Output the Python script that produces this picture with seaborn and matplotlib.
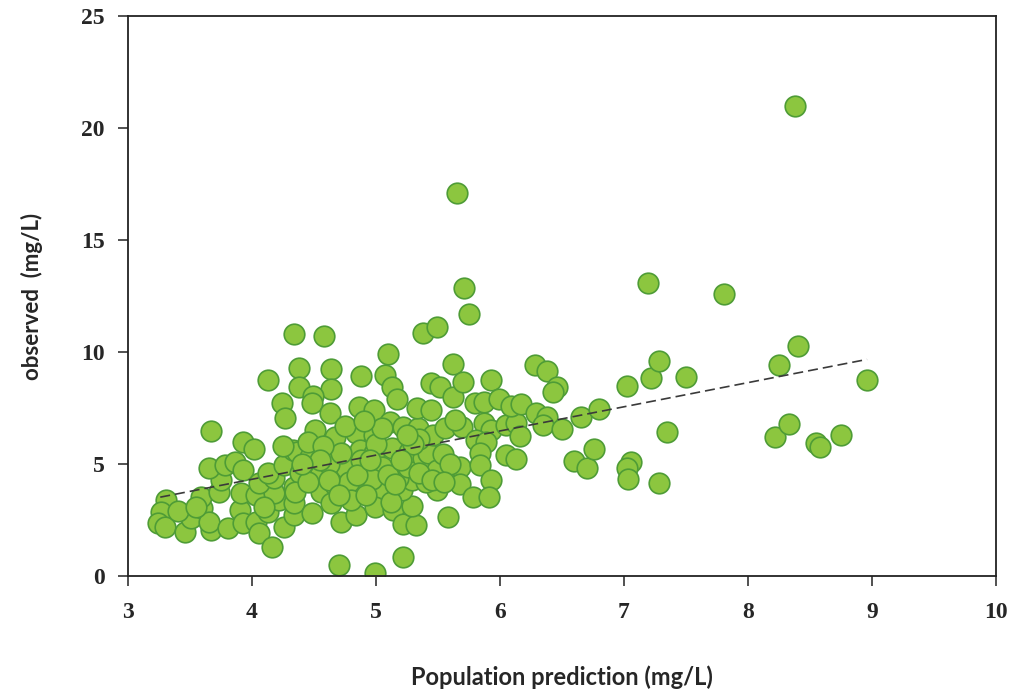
import matplotlib
matplotlib.use("Agg")
import matplotlib.pyplot as plt
import seaborn as sns
import pandas as pd

# Population-predicted vs observed concentrations (mg/L)
pred = [
    3.31, 3.27, 3.24, 3.30, 3.46, 3.51, 3.60, 3.59, 3.67, 3.65, 3.73, 3.75, 3.65, 3.78, 3.86,
    3.93, 3.67, 3.93, 4.02, 3.81, 3.90, 3.93, 3.91, 4.03, 4.03, 4.06, 4.13, 4.16, 4.26, 4.34,
    4.22, 4.34, 4.18, 4.34, 4.06, 4.18, 4.13, 4.26, 4.40, 4.33, 4.13, 4.24, 4.27, 4.34, 4.38,
    4.38, 4.58, 4.64, 4.64, 4.49, 4.48, 4.63, 4.51, 4.67, 4.36, 4.47, 4.52, 4.39, 4.55, 4.35,
    4.56, 4.64, 4.48, 4.72, 4.70, 4.67, 4.88, 5.07, 5.10, 5.13, 4.86, 4.98, 5.17, 4.84, 4.98,
    5.11, 4.87, 4.98, 5.13, 4.76, 4.95, 4.88, 5.05, 4.88, 5.06, 4.84, 4.99, 5.14, 4.99, 5.22,
    5.22, 5.32, 5.29, 5.21, 5.29, 5.18, 5.26, 5.22, 5.34, 5.33, 5.27, 5.38, 5.42, 5.46, 5.44,
    5.44, 5.52, 5.38, 5.49, 5.49, 5.49, 5.58, 5.54, 5.56, 5.62, 5.62, 5.65, 5.71, 5.75, 5.70,
    5.93, 5.80, 5.87, 5.99, 5.69, 5.64, 5.87, 5.93, 5.81, 5.89, 5.84, 5.68, 5.84, 5.93, 5.68,
    5.78, 5.91, 6.05, 6.13, 6.16, 6.09, 6.17, 6.29, 6.38, 6.35, 6.50, 6.65, 6.80, 6.28, 6.38,
    6.46, 6.43, 6.05, 6.13, 6.60, 6.70, 6.76, 7.02, 7.22, 7.28, 7.50, 7.19, 7.81, 7.35, 7.06,
    7.02, 7.03, 7.28, 8.40, 8.25, 8.96, 8.22, 8.33, 8.55, 8.58, 8.75, 8.38,
    4.78, 4.97, 5.10, 4.62, 4.72, 5.00, 5.35, 4.45, 4.57, 4.80, 5.12, 5.40, 4.92, 5.30,
    4.45, 4.62, 4.70, 4.85, 5.15, 5.35, 5.45, 4.95, 5.20, 4.55, 4.40, 5.05, 4.75, 5.25,
    4.90, 5.60, 5.55, 4.25, 3.40, 3.55, 4.10,
]
obs = [
    3.39, 2.87, 2.35, 2.20, 1.98, 2.58, 3.02, 3.54, 2.05, 2.42, 3.76, 4.30, 4.81, 4.96, 5.10,
    4.73, 6.47, 6.00, 5.68, 2.13, 2.95, 2.35, 3.69, 3.62, 2.42, 1.90, 2.87, 1.31, 2.20, 2.72,
    3.39, 3.25, 3.69, 3.99, 4.14, 4.36, 4.58, 4.96, 4.88, 5.63, 8.75, 7.71, 7.04, 10.80, 9.27,
    8.45, 10.71, 9.23, 8.33, 8.04, 7.71, 7.26, 6.52, 6.22, 5.55, 5.33, 4.73, 4.58, 4.51, 3.76,
    3.76, 3.25, 2.80, 2.42, 0.49, 4.06, 8.93, 8.97, 9.90, 8.42, 7.56, 7.41, 7.89, 6.37, 6.29,
    6.89, 5.63, 5.48, 5.70, 4.81, 4.81, 5.18, 4.85, 3.99, 3.84, 2.72, 3.09, 2.95, 0.15, 0.87,
    2.32, 2.28, 3.12, 3.84, 4.29, 4.36, 4.88, 6.67, 6.59, 7.49, 5.55, 5.25, 5.48, 6.29, 7.41,
    8.60, 8.42, 10.83, 11.13, 4.73, 3.84, 2.65, 5.45, 6.59, 9.46, 8.00, 17.10, 12.87, 11.68, 8.68,
    8.75, 7.71, 7.78, 7.89, 6.67, 6.96, 6.82, 6.52, 6.07, 6.00, 5.48, 4.88, 4.96, 4.29, 4.11,
    3.54, 3.54, 6.74, 6.82, 6.26, 7.59, 7.68, 7.29, 7.11, 6.74, 6.56, 7.11, 7.44, 9.43, 9.15,
    8.42, 8.23, 5.40, 5.22, 5.13, 4.84, 5.65, 8.48, 8.85, 9.61, 8.87, 13.10, 12.58, 6.44, 5.07,
    4.81, 4.32, 4.17, 10.28, 9.40, 8.74, 6.21, 6.77, 5.95, 5.77, 6.28, 21.00,
    4.20, 4.35, 4.50, 5.00, 5.50, 5.90, 6.10, 6.00, 5.80, 3.40, 3.30, 4.20, 3.60, 5.90,
    4.20, 4.30, 3.60, 4.50, 4.10, 4.60, 4.30, 5.20, 5.20, 5.20, 5.00, 6.60, 6.70, 6.30,
    6.90, 5.00, 4.20, 5.80, 2.90, 3.10, 3.10,
]

# Trend line end points
trend_x = [3.26, 8.96]
trend_y = [3.52, 9.67]

x_ticks = [3, 4, 5, 6, 7, 8, 9, 10]
y_ticks = [0, 5, 10, 15, 20, 25]

sns.set_style("ticks")
plt.rcParams["font.family"] = ["DejaVu Sans"]

df = pd.DataFrame({"pred": pred, "obs": obs})
trend = pd.DataFrame({"x": trend_x, "y": trend_y})

fig = plt.figure(figsize=(10.24, 6.96), dpi=100)
ax = fig.add_axes([0.125, 0.1724, 0.8477, 0.8046])

sns.scatterplot(data=df, x="pred", y="obs", ax=ax, s=220,
                color="#8cc63f", edgecolor="#4e9c36", linewidth=1.2,
                alpha=1.0, zorder=2, legend=False)
sns.lineplot(data=trend, x="x", y="y", ax=ax, color="#3a3a3a",
             linewidth=1.2, linestyle=(0, (6, 3)), zorder=3)

ax.set_xlim(3, 10)
ax.set_ylim(0, 25)
ax.set_xticks(x_ticks)
ax.set_yticks(y_ticks)

tick_font = dict(family="Liberation Serif", weight="bold", size=17)
ax.set_xticklabels([str(t) for t in x_ticks], fontdict=tick_font)
ax.set_yticklabels([str(t) for t in y_ticks], fontdict=tick_font)
ax.tick_params(axis="both", direction="out", length=7, width=1.2,
               color="#333333")
ax.tick_params(axis="x", pad=12)
ax.tick_params(axis="y", pad=10)

for side in ["left", "bottom", "top", "right"]:
    ax.spines[side].set_visible(True)
    ax.spines[side].set_color("#222222")
    ax.spines[side].set_linewidth(1.3)

ax.set_xlabel("Population prediction (mg/L)", fontfamily="Lato",
              fontweight="bold", fontsize=17, labelpad=30)
ax.set_ylabel("observed  (mg/L)", fontfamily="Lato",
              fontweight="bold", fontsize=16, labelpad=27)

fig.savefig("out.png", dpi=100, facecolor="white")
